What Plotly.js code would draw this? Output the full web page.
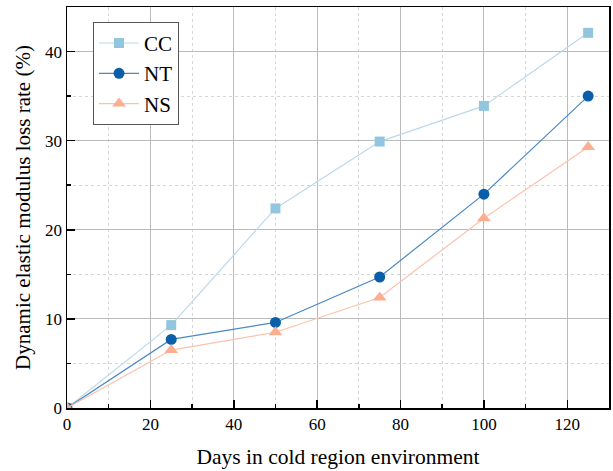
<!DOCTYPE html>
<html><head><meta charset="utf-8">
<script src="https://cdn.plot.ly/plotly-3.0.1.min.js"></script>
<style>html,body{margin:0;padding:0;background:#fff}#c{width:613px;height:471px}</style>
</head><body><div id="c"></div>
<script>
const days = [0, 25, 50, 75, 100, 125];
const cc = [0, 9.3, 22.4, 29.9, 33.9, 42.1];
const nt = [0, 7.7, 9.6, 14.7, 24.0, 35.0];
const ns = [0, 6.5, 8.5, 12.4, 21.3, 29.3];
const seriesNames = ['CC', 'NT', 'NS'];

const traces = [
  {x: days, y: cc, name: seriesNames[0], mode: 'lines+markers',
   line: {color: '#bcd9ea', width: 1.2}, marker: {symbol: 'square', size: 10, color: '#92c5de'}},
  {x: days, y: nt, name: seriesNames[1], mode: 'lines+markers',
   line: {color: '#4a88c4', width: 1.2}, marker: {symbol: 'circle', size: 11, color: '#0b5ea8'}},
  {x: days, y: ns, name: seriesNames[2], mode: 'lines+markers',
   line: {color: '#fcc2ad', width: 1.2}, marker: {symbol: 'triangle-up', size: 12, color: '#fcae91'}}
];

const font = {family: 'Liberation Serif, Times New Roman, serif', color: '#000'};
const layout = {
  width: 613, height: 471,
  margin: {l: 67, r: 4, t: 7, b: 63},
  paper_bgcolor: '#fff', plot_bgcolor: '#fff',
  font: Object.assign({size: 17}, font),
  showlegend: true,
  legend: {x: 0.048, y: 0.963, xanchor: 'left', yanchor: 'top',
    bordercolor: '#555', borderwidth: 1, bgcolor: '#fff',
    font: Object.assign({size: 21}, font), itemwidth: 40, tracegroupgap: 0},
  xaxis: {
    range: [0, 130], dtick: 20, tick0: 0, ticks: 'inside', ticklen: 8, tickwidth: 1.5,
    tickcolor: '#000', showline: true, linecolor: '#000', linewidth: 1.5, mirror: true,
    showgrid: true, gridcolor: '#bbbbbb', gridwidth: 1, zeroline: false,
    tickfont: Object.assign({size: 17}, font),
    minor: {dtick: 10, ticks: 'inside', ticklen: 4, tickcolor: '#000', showgrid: true,
      gridcolor: '#d6d6d6', griddash: 'dot', gridwidth: 1},
    title: {text: 'Days in cold region environment', font: Object.assign({size: 21.5}, font), standoff: 16}
  },
  yaxis: {
    range: [0, 45], dtick: 10, tick0: 0, ticks: 'inside', ticklen: 8, tickwidth: 1.5,
    tickcolor: '#000', showline: true, linecolor: '#000', linewidth: 1.5, mirror: true,
    showgrid: true, gridcolor: '#bbbbbb', gridwidth: 1, zeroline: false,
    tickfont: Object.assign({size: 17}, font),
    minor: {dtick: 5, ticks: 'inside', ticklen: 4, tickcolor: '#000', showgrid: true,
      gridcolor: '#d6d6d6', griddash: 'dot', gridwidth: 1},
    title: {text: 'Dynamic elastic modulus loss rate (%)', font: Object.assign({size: 21}, font), standoff: 8}
  }
};
Plotly.newPlot('c', traces, layout, {displayModeBar: false, staticPlot: true});
</script></body></html>
